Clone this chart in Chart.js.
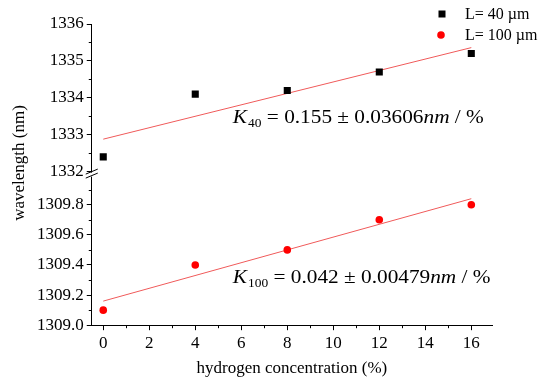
<!DOCTYPE html>
<html>
<head>
<meta charset="utf-8">
<script src="https://cdn.jsdelivr.net/npm/chart.js@4.4.1/dist/chart.umd.min.js"></script>
<style>
  html, body { margin: 0; padding: 0; background: #fff; }
  #wrap { width: 546px; height: 380px; }
</style>
</head>
<body>
<div id="wrap"><canvas id="waveChart" width="546" height="380"></canvas></div>
<script>
// hydrogen concentration (%)
const concentration = [0, 4, 8, 12, 16];
// wavelength (nm)
const wave40 = [1332.4, 1334.1, 1334.2, 1334.7, 1335.2];
const wave100 = [1309.1, 1309.4, 1309.5, 1309.7, 1309.8];

const xTicks = [0, 2, 4, 6, 8, 10, 12, 14, 16];
const yTopTicks = [1332, 1333, 1334, 1335, 1336];
const yBotTicks = [1309.0, 1309.2, 1309.4, 1309.6, 1309.8];

const seriesLabels = ["L= 40 \u00b5m", "L= 100 \u00b5m"];
const serif = "'Liberation Serif', 'Times New Roman', serif";

// least squares fit, drawn as a line from first to last x
function fitLine(xs, ys) {
  const n = xs.length;
  const mx = xs.reduce((a, b) => a + b, 0) / n;
  const my = ys.reduce((a, b) => a + b, 0) / n;
  let sxy = 0, sxx = 0;
  xs.forEach((x, i) => { sxy += (x - mx) * (ys[i] - my); sxx += (x - mx) * (x - mx); });
  const k = sxy / sxx;
  const b = my - k * mx;
  const x0 = xs[0], x1 = xs[n - 1];
  return [{ x: x0, y: k * x0 + b }, { x: x1, y: k * x1 + b }];
}

const pts = (ys) => concentration.map((x, i) => ({ x: x, y: ys[i] }));

// minor ticks, axis break, y title, legend, fit labels
const extras = {
  id: "extras",
  afterDraw(chart) {
    const ctx = chart.ctx;
    const xs = chart.scales.x, yt = chart.scales.yTop, yb = chart.scales.yBot;
    const area = chart.chartArea;
    ctx.save();
    ctx.strokeStyle = "#000";
    ctx.lineWidth = 1;

    // minor ticks
    ctx.beginPath();
    for (let v = 1; v <= 16; v += 2) {
      const px = Math.round(xs.getPixelForValue(v)) + 0.5;
      ctx.moveTo(px, area.bottom); ctx.lineTo(px, area.bottom + 3);
    }
    for (let v = 1332.5; v < 1336; v += 1) {
      const py = Math.round(yt.getPixelForValue(v)) + 0.5;
      ctx.moveTo(area.left, py); ctx.lineTo(area.left - 3, py);
    }
    for (let v = 1309.1; v < 1310; v += 0.2) {
      const py = Math.round(yb.getPixelForValue(v)) + 0.5;
      ctx.moveTo(area.left, py); ctx.lineTo(area.left - 3, py);
    }
    ctx.stroke();

    // axis break
    const by = yt.bottom;
    ctx.fillStyle = "#fff";
    ctx.fillRect(area.left - 2, by - 2, 4, 4);
    ctx.beginPath();
    ctx.moveTo(area.left - 6, by - 0.5); ctx.lineTo(area.left + 6, by - 5.5);
    ctx.moveTo(area.left - 6, by + 3.5); ctx.lineTo(area.left + 6, by - 1.5);
    ctx.stroke();

    // y title
    ctx.fillStyle = "#000";
    ctx.font = "17px " + serif;
    ctx.textAlign = "center";
    ctx.textBaseline = "middle";
    ctx.save();
    ctx.translate(20, 163);
    ctx.rotate(-Math.PI / 2);
    ctx.fillText("wavelength (nm)", 0, 0);
    ctx.restore();

    // legend
    ctx.textAlign = "left";
    ctx.font = "16px " + serif;
    const lx = area.right - 50, tx = area.right - 27;
    ctx.fillStyle = "#000";
    ctx.fillRect(lx - 3.5, area.top - 13.5, 7, 7);
    ctx.fillText(seriesLabels[0], tx, area.top - 9);
    ctx.fillStyle = "#f00";
    ctx.beginPath();
    ctx.arc(lx - 1, area.top + 11, 3.8, 0, Math.PI * 2);
    ctx.fill();
    ctx.fillStyle = "#000";
    ctx.fillText(seriesLabels[1], tx, area.top + 12);

    // fit labels
    const drawK = (sub, rest, x, y) => {
      ctx.save();
      ctx.translate(x, y);
      ctx.scale(1.12, 1);
      ctx.textBaseline = "alphabetic";
      let cx = 0;
      ctx.font = "italic 19px " + serif;
      ctx.fillText("K", 0, 0); cx += ctx.measureText("K").width + 1;
      ctx.font = "12px " + serif;
      ctx.fillText(sub, cx, 4); cx += ctx.measureText(sub).width;
      ctx.font = "19px " + serif;
      const a = " = " + rest[0] + " \u00b1 " + rest[1];
      ctx.fillText(a, cx, 0); cx += ctx.measureText(a).width;
      ctx.font = "italic 19px " + serif;
      ctx.fillText("nm", cx, 0); cx += ctx.measureText("nm").width;
      ctx.font = "19px " + serif;
      ctx.fillText(" / %", cx, 0);
      ctx.restore();
    };
    drawK("40", ["0.155", "0.03606"], xs.getPixelForValue(5.63), yt.getPixelForValue(1333.33));
    drawK("100", ["0.042", "0.00479"], xs.getPixelForValue(5.63), yb.getPixelForValue(1309.28));
    ctx.restore();
  }
};

const tickFont = { family: serif, size: 17 };
const axisGrid = { display: true, drawOnChartArea: false, drawTicks: true, tickLength: 5, color: "#000", lineWidth: 1 };
const axisBorder = { display: true, color: "#000", width: 1 };

const chart = new Chart(document.getElementById("waveChart").getContext("2d"), {
  type: "scatter",
  data: {
    datasets: [
      {
        label: seriesLabels[0],
        data: pts(wave40),
        yAxisID: "yTop",
        pointStyle: "rect",
        pointRadius: 5,
        backgroundColor: "#000",
        borderColor: "#000",
        borderWidth: 0
      },
      {
        label: seriesLabels[1],
        data: pts(wave100),
        yAxisID: "yBot",
        pointStyle: "circle",
        pointRadius: 3.8,
        backgroundColor: "#f00",
        borderColor: "#f00",
        borderWidth: 0
      },
      {
        type: "line",
        data: fitLine(concentration, wave40),
        yAxisID: "yTop",
        borderColor: "#f05a5a",
        borderWidth: 1,
        pointRadius: 0
      },
      {
        type: "line",
        data: fitLine(concentration, wave100),
        yAxisID: "yBot",
        borderColor: "#f05a5a",
        borderWidth: 1,
        pointRadius: 0
      }
    ]
  },
  options: {
    responsive: false,
    animation: false,
    layout: { padding: { left: 34, right: 54, top: 24, bottom: 1 } },
    plugins: { legend: { display: false }, tooltip: { enabled: false } },
    scales: {
      x: {
        type: "linear",
        min: -0.5,
        max: 16.9,
        afterBuildTicks: (s) => { s.ticks = xTicks.map(v => ({ value: v })); },
        ticks: { font: tickFont, color: "#000", padding: 3, autoSkip: false, maxRotation: 0 },
        grid: axisGrid,
        border: axisBorder,
        title: { display: true, text: "hydrogen concentration (%)", font: { family: serif, size: 17 }, color: "#000", padding: { top: 2, bottom: 0 } }
      },
      yBot: {
        type: "linear",
        position: "left",
        stack: "wave",
        stackWeight: 1,
        min: 1309.0,
        max: 1310.0,
        afterBuildTicks: (s) => { s.ticks = yBotTicks.map(v => ({ value: v })); },
        ticks: { font: tickFont, color: "#000", padding: 3, autoSkip: false, callback: (v) => Number(v).toFixed(1) },
        grid: axisGrid,
        border: axisBorder
      },
      yTop: {
        type: "linear",
        position: "left",
        stack: "wave",
        stackWeight: 1,
        min: 1331.92,
        max: 1336,
        afterBuildTicks: (s) => { s.ticks = yTopTicks.map(v => ({ value: v })); },
        ticks: { font: tickFont, color: "#000", padding: 3, autoSkip: false, callback: (v) => String(v) },
        grid: axisGrid,
        border: axisBorder
      }
    }
  },
  plugins: [extras]
});
</script>
</body>
</html>
